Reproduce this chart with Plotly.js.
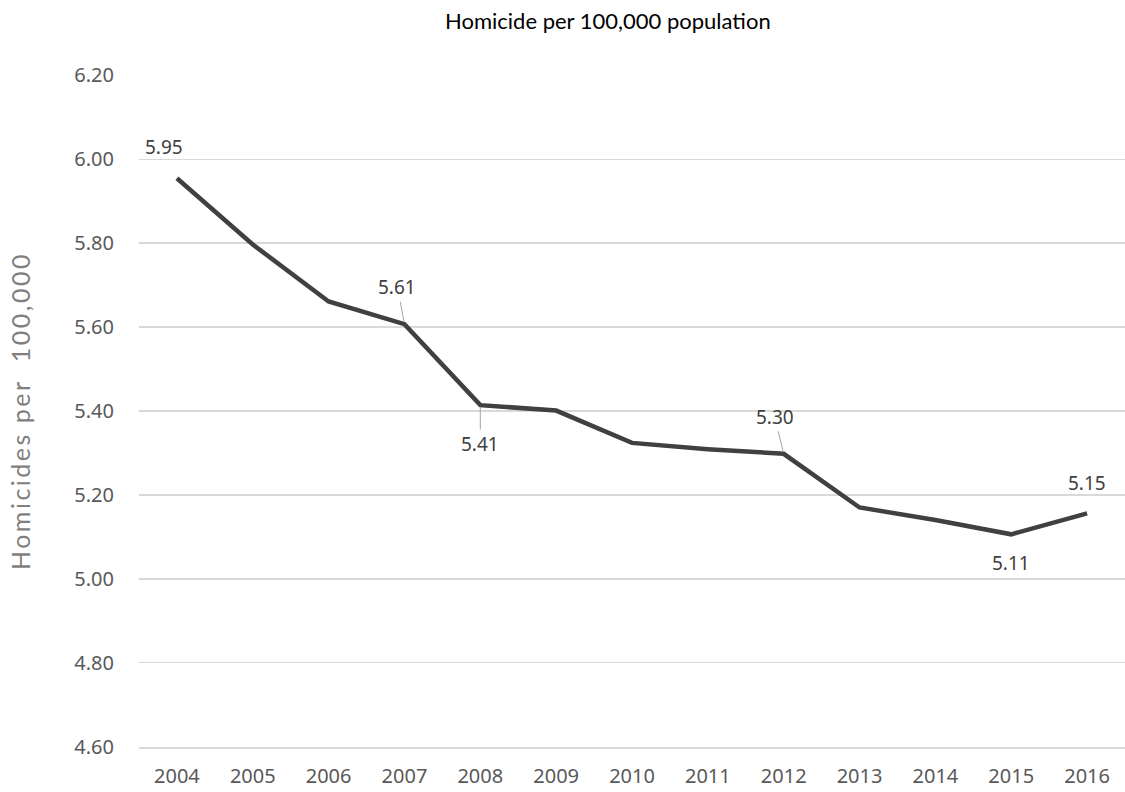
<!DOCTYPE html>
<html>
<head>
<meta charset="utf-8">
<script src="https://cdn.plot.ly/plotly-3.0.1.min.js"></script>
<style>html,body{margin:0;padding:0;background:#fff;}#chart{width:1125px;height:792px;} .ytitle{letter-spacing:2.5px;}</style>
</head>
<body>
<div id="chart"></div>
<script>
const years = ["2004","2005","2006","2007","2008","2009","2010","2011","2012","2013","2014","2015","2016"];
const rates = [5.955, 5.797, 5.661, 5.607, 5.414, 5.401, 5.324, 5.309, 5.298, 5.170, 5.140, 5.106, 5.156];
const yTicks = [4.6, 4.8, 5.0, 5.2, 5.4, 5.6, 5.8, 6.0, 6.2];
const labelYears = ["2004","2007","2008","2012","2015","2016"];
const labelTexts = ["5.95","5.61","5.41","5.30","5.11","5.15"];

const offsets = {
  "2004": {ax:-13, ay:-31, leader:false},
  "2007": {ax:-7, ay:-37, leader:true},
  "2008": {ax:0, ay:39, leader:true},
  "2012": {ax:-9, ay:-37, leader:true},
  "2015": {ax:0, ay:29, leader:false},
  "2016": {ax:0, ay:-30, leader:false}
};

const annotations = labelYears.map((yr, i) => {
  const o = offsets[yr];
  const idx = years.indexOf(yr);
  return {
    x: idx, y: rates[idx], xref:'x', yref:'y',
    text: labelTexts[i], showarrow: true, arrowhead: 0, arrowwidth: 1,
    arrowcolor: o.leader ? '#a6a6a6' : 'rgba(0,0,0,0)', standoff: 2, startstandoff: 0,
    ax: o.ax, ay: o.ay,
    font: {family: 'Noto Sans, sans-serif', size: 19, color: '#404040'}
  };
});

annotations.push({
  text: 'Homicide per 100,000 population', xref:'paper', yref:'paper',
  x: 0.4757, y: 1, yshift: 55, showarrow:false, yanchor:'middle',
  font: {family:'Lato, sans-serif', size: 22, color:'#000'}
});

const trace = {
  x: years, y: rates, type:'scatter', mode:'lines',
  line: {color:'#404040', width:4.5}, hoverinfo:'skip'
};

const layout = {
  width:1125, height:792,
  margin:{l:139, r:0, t:75, b:45},
  paper_bgcolor:'#fff', plot_bgcolor:'#fff',
  showlegend:false,
  xaxis:{type:'category', range:[-0.5, 12.5], autorange:false, showgrid:false, zeroline:false, showline:true, linecolor:'#d9d9d9', linewidth:1.5,
    ticks:'', ticklabelstandoff:10, tickfont:{family:'Noto Sans, sans-serif', size:20, color:'#595959'}},
  yaxis:{range:[4.599, 6.201], autorange:false, tickvals:yTicks, tickformat:'.2f', showgrid:true, gridcolor:'#d9d9d9', gridwidth:1.5,
    zeroline:false, showline:false, ticks:'', ticklabelstandoff:24,
    tickfont:{family:'Noto Sans, sans-serif', size:20, color:'#595959'},
    title:{text:'Homicides per\u00a0\u00a0100,000\u00a0\u00a0\u00a0', standoff:36, font:{family:'Lato, sans-serif', size:25, color:'#7f7f7f'}}},
  annotations: annotations
};

Plotly.newPlot('chart', [trace], layout, {displayModeBar:false, staticPlot:true});
</script>
</body>
</html>
